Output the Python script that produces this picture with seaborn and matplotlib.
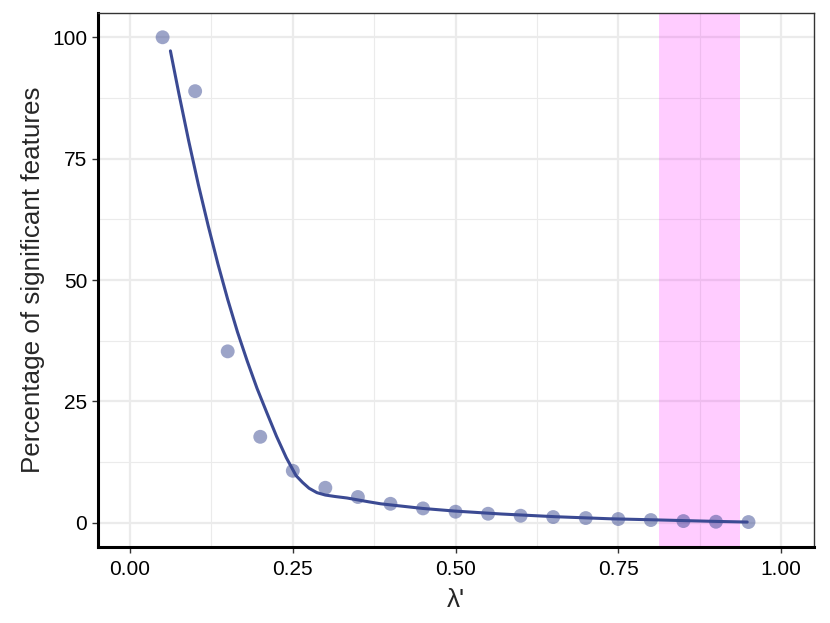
import matplotlib
matplotlib.use("Agg")
import matplotlib.pyplot as plt
import seaborn as sns
import pandas as pd

# ---- data ----
lambda_vals = [0.05, 0.10, 0.15, 0.20, 0.25, 0.30, 0.35, 0.40, 0.45, 0.50,
               0.55, 0.60, 0.65, 0.70, 0.75, 0.80, 0.85, 0.90, 0.95]
pct_sig = [100.0, 88.9, 35.3, 17.7, 10.7, 7.2, 5.3, 3.9, 2.95, 2.27,
           1.85, 1.44, 1.17, 0.96, 0.76, 0.55, 0.34, 0.2, 0.14]

# smoothed fit curve
fit_x = [0.062, 0.075, 0.090, 0.105, 0.120, 0.135, 0.150, 0.165, 0.180, 0.195,
         0.210, 0.225, 0.240, 0.255, 0.265, 0.275, 0.287, 0.300, 0.315, 0.333,
         0.350, 0.367, 0.385, 0.405, 0.449, 0.499, 0.570, 0.653, 0.736, 0.818,
         0.901, 0.948]
fit_y = [97.2, 88.4, 78.7, 69.6, 61.2, 53.3, 46.0, 39.3, 33.3, 27.7,
         22.7, 17.8, 13.4, 9.7, 8.3, 7.1, 6.2, 5.7, 5.4, 5.1,
         4.7, 4.3, 3.9, 3.6, 2.95, 2.4, 1.8, 1.24, 0.82, 0.55,
         0.27, 0.14]

band_range = [0.8125, 0.9375]
x_ticks = [0.0, 0.25, 0.5, 0.75, 1.0]
x_tick_labels = ["0.00", "0.25", "0.50", "0.75", "1.00"]
y_ticks = [0, 25, 50, 75, 100]
y_tick_labels = ["0", "25", "50", "75", "100"]
x_minor = [0.125, 0.375, 0.625, 0.875]
y_minor = [12.5, 37.5, 62.5, 87.5]

points_df = pd.DataFrame({"lam": lambda_vals, "pct": pct_sig})
fit_df = pd.DataFrame({"lam": fit_x, "pct": fit_y})

sns.set_theme(style="white")
plt.rcParams["font.family"] = ["Liberation Sans", "DejaVu Sans"]

W, H = 830, 623
fig = plt.figure(figsize=(W / 100, H / 100), dpi=100)
ax = fig.add_axes([97.5 / W, 1 - 547 / H, (813.6 - 97.5) / W, (547 - 13) / H])

navy = "#3B4A93"
grid_col = "#EBEBEB"

# grid
for v in x_minor:
    ax.axvline(v, color=grid_col, lw=0.8, zorder=0)
for v in y_minor:
    ax.axhline(v, color=grid_col, lw=0.8, zorder=0)
for v in x_ticks:
    ax.axvline(v, color=grid_col, lw=1.6, zorder=0)
for v in y_ticks:
    ax.axhline(v, color=grid_col, lw=1.6, zorder=0)

ax.axvspan(band_range[0], band_range[1], color="#FF00FF", alpha=0.2, lw=0, zorder=1)

sns.scatterplot(data=points_df, x="lam", y="pct", ax=ax, color=navy, alpha=0.5,
                s=100, edgecolor="none", zorder=2)
sns.lineplot(data=fit_df, x="lam", y="pct", ax=ax, color=navy, lw=2.2, zorder=3)

ax.set_xlim(-0.05, 1.05)
ax.set_ylim(-5, 105)
ax.set_xticks(x_ticks)
ax.set_xticklabels(x_tick_labels)
ax.set_yticks(y_ticks)
ax.set_yticklabels(y_tick_labels)

ax.tick_params(axis="both", which="major", direction="out", length=4.2, width=1.0,
               color="#333333", labelsize=15, labelcolor="black",
               bottom=True, left=True)
ax.tick_params(axis="x", pad=5.5)
ax.tick_params(axis="y", pad=3.2)

for side in ["left", "bottom"]:
    ax.spines[side].set_linewidth(2.2)
    ax.spines[side].set_color("black")
for side in ["top", "right"]:
    ax.spines[side].set_linewidth(1.0)
    ax.spines[side].set_color("#333333")

ax.set_xlabel("λ'", fontsize=18.7, labelpad=6)
ax.set_ylabel("Percentage of significant features", fontsize=18.7, labelpad=5)

fig.savefig("out.png", dpi=100)
